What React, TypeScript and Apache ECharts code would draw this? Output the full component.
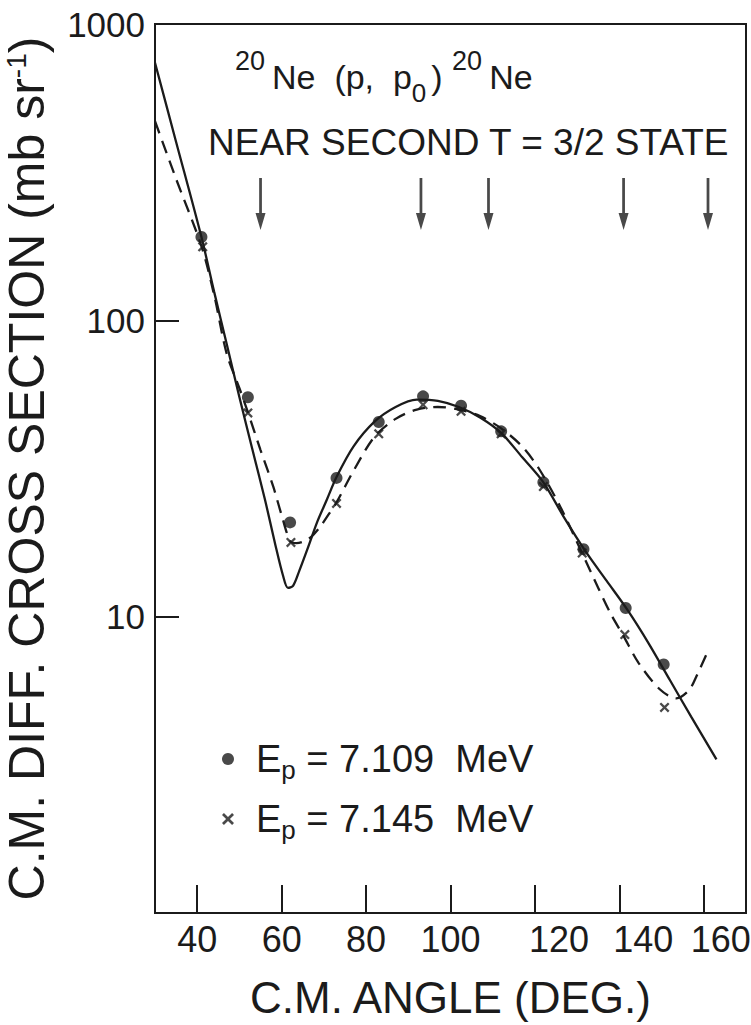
import { useEffect, useRef } from "react";
import * as echarts from "echarts";

const FONT = "'Liberation Sans', Arial, sans-serif";
const INK = "#1b1b1b";

// x axis (C.M. angle, degrees)
const angleTicks = [40, 60, 80, 100, 120, 140, 160];
// y axis (log) labels
const crossSectionLabels = [10, 100, 1000];

// Data: Ep = 7.109 MeV (dots)
const dotAngle = [41, 52, 62, 73, 83, 93.5, 102.5, 112, 122, 131.5, 141.5, 150.5];
const dotValue = [191, 55, 20.8, 29.4, 45.4, 55.4, 51.5, 42.2, 28.4, 16.9, 10.7, 6.9];

// Data: Ep = 7.145 MeV (crosses)
const crossAngle = [41.3, 52, 62.2, 73, 83, 93.5, 102.5, 112, 122, 131.2, 141.3, 150.7];
const crossValue = [177, 48.7, 17.8, 24.1, 41.4, 51.9, 49.3, 41.4, 27.5, 16.4, 8.7, 4.94];

// Solid curve
const solidAngle = [30, 35, 41, 44, 47, 50, 53, 56, 58.5, 60.3, 61.5, 62.7, 64.2, 66.3, 68.5, 70.7, 73, 77, 82, 87, 92, 97, 102, 107, 112, 117, 122, 127, 132, 137, 142, 147, 152, 157, 163];
const solidValue = [740, 400, 191, 125, 83, 55, 37, 25, 17.5, 13.8, 12.5, 12.7, 14.3, 17.2, 21, 24.8, 29.6, 37.5, 45.5, 51, 54, 53.5, 51, 47, 41.7, 34.5, 28.4, 21.5, 16.6, 13.2, 10.5, 8.1, 6.1, 4.6, 3.3];

// Dashed curve
const dashedAngle = [30, 35, 41, 44, 47, 50, 52, 55, 58, 60, 62, 63.5, 65, 67, 69, 71, 73, 77, 82, 87, 92, 97, 102, 107, 112, 117, 121, 126, 131, 135, 138, 141, 144.5, 149.5, 153.5, 156.5, 158.5, 160.7];
const dashedValue = [470, 300, 178, 122, 77, 59, 49, 36.5, 27.5, 22, 18, 17.7, 17.9, 18.6, 20, 22, 24.3, 31, 40.5, 46.5, 50, 51, 50, 47.5, 43.2, 37.5, 31.5, 23.5, 16.6, 12.5, 10.2, 8.6, 7.0, 5.7, 5.3, 5.65, 6.4, 7.5];

// Arrows marking the resonance angles
const arrowAngles = [55, 93, 109, 141, 161];
const arrowLevel = 247;

const XPATH = "path://M0,1.6 L1.6,0 L5,3.4 L8.4,0 L10,1.6 L6.6,5 L10,8.4 L8.4,10 L5,6.6 L1.6,10 L0,8.4 L3.4,5 Z";
const ARROW = "path://M3.9,0 L6.1,0 L6.1,35 L9,35 L5,52 L1,35 L3.9,35 Z";

const pairs = (xs: number[], ys: number[]) => xs.map((x, i) => [x, ys[i]]);

export default function App() {
  const ref = useRef<HTMLDivElement>(null);
  useEffect(() => {
    const chart = echarts.init(ref.current!, null, { renderer: "svg" });
    const tickLabelStyle = { fontSize: 36, fontFamily: FONT, color: INK };
    const option: any = {
      animation: false,
      backgroundColor: "#ffffff",
      grid: {
        left: 155,
        right: 5,
        top: 24,
        bottom: 112,
        containLabel: false,
        outerBoundsMode: "none",
        show: true,
        borderColor: INK,
        borderWidth: 2,
        backgroundColor: "transparent",
      },
      xAxis: {
        type: "value",
        min: 30,
        max: 170,
        axisLine: { show: true, onZero: false, lineStyle: { color: INK, width: 2 } },
        axisTick: { show: true, inside: true, length: 28, customValues: angleTicks, lineStyle: { color: INK, width: 2 } },
        axisLabel: {
          customValues: angleTicks,
          margin: 8,
          ...tickLabelStyle,
          formatter: (v: number) => (v >= 160 ? `{b|${v}}` : v >= 120 ? `{a|${v}}` : `${v}`),
          rich: {
            a: { ...tickLabelStyle, padding: [0, 0, 0, 48] },
            b: { ...tickLabelStyle, padding: [0, 0, 0, 34] },
          },
        },
        splitLine: { show: false },
        name: "C.M. ANGLE (DEG.)",
        nameLocation: "middle",
        nameGap: 62,
        nameTextStyle: { fontSize: 44, fontFamily: FONT, color: INK },
      },
      yAxis: {
        type: "log",
        logBase: 10,
        min: 1,
        max: 1000,
        axisLine: { show: true, lineStyle: { color: INK, width: 2 } },
        axisTick: { show: true, inside: true, length: 24, customValues: [10, 100], lineStyle: { color: INK, width: 2 } },
        axisLabel: {
          customValues: crossSectionLabels,
          margin: 10,
          fontSize: 35,
          fontFamily: FONT,
          color: INK,
          formatter: (v: number) => String(Math.round(v)),
        },
        splitLine: { show: false },
        name: "C.M. DIFF. CROSS SECTION (mb sr{s|-1})",
        nameLocation: "middle",
        nameGap: 94,
        nameTextStyle: {
          fontSize: 50,
          lineHeight: 50,
          fontFamily: FONT,
          color: INK,
          rich: {
            s: { fontSize: 28, lineHeight: 24, fontFamily: FONT, color: INK, padding: [0, 0, 26, 0], verticalAlign: "top" },
          },
        },
      },
      legend: {
        orient: "vertical",
        left: 217,
        top: 735,
        itemWidth: 12,
        itemHeight: 12,
        itemGap: 17,
        selectedMode: false,
        data: [
          { name: "7.109", icon: "circle" },
          { name: "7.145", icon: XPATH },
        ],
        formatter: (name: string) => `{e|E}{p|p}{t| = ${name}  MeV}`,
        textStyle: {
          fontSize: 38,
          fontFamily: FONT,
          color: INK,
          rich: {
            e: { fontSize: 38, fontFamily: FONT, color: INK, padding: [0, 0, 0, 17] },
            p: { fontSize: 26, fontFamily: FONT, color: INK, padding: [22, 0, 0, 0], verticalAlign: "bottom" },
            t: { fontSize: 38, fontFamily: FONT, color: INK },
          },
        },
      },
      graphic: [
        {
          type: "text",
          x: 235,
          y: 76.5,
          silent: true,
          style: {
            text: "{sup|20}{m|Ne  (p,  p}{sub|0}{m|) }{sup|20}{m|Ne}",
            verticalAlign: "middle",
            align: "left",
            fill: INK,
            rich: {
              m: { fontSize: 34, fontFamily: FONT, color: INK },
              sup: { fontSize: 27, fontFamily: FONT, color: INK, padding: [0, 7, 31, 0], verticalAlign: "top" },
              sub: { fontSize: 26, fontFamily: FONT, color: INK, padding: [33, 5, 0, 0], verticalAlign: "bottom" },
            },
          },
        },
        {
          type: "text",
          x: 208,
          y: 142.5,
          silent: true,
          style: {
            text: "NEAR SECOND T = 3/2 STATE",
            fontSize: 37,
            fontFamily: FONT,
            fill: INK,
            verticalAlign: "middle",
            align: "left",
          },
        },
      ],
      series: [
        {
          type: "line",
          name: "solid",
          data: pairs(solidAngle, solidValue),
          symbol: "none",
          smooth: 0.3,
          lineStyle: { color: INK, width: 2.3 },
          silent: true,
        },
        {
          type: "line",
          name: "dashed",
          data: pairs(dashedAngle, dashedValue),
          symbol: "none",
          smooth: 0.3,
          lineStyle: { color: INK, width: 2.3, type: [13, 8] },
          silent: true,
        },
        {
          type: "scatter",
          name: "7.109",
          data: pairs(dotAngle, dotValue),
          symbol: "circle",
          symbolSize: 12,
          itemStyle: { color: INK },
          z: 5,
        },
        {
          type: "scatter",
          name: "7.145",
          data: pairs(crossAngle, crossValue),
          symbol: XPATH,
          symbolSize: 10,
          itemStyle: { color: INK },
          z: 5,
        },
        {
          type: "scatter",
          name: "arrows",
          data: arrowAngles.map((a) => [a, arrowLevel]),
          symbol: ARROW,
          symbolSize: [10, 52],
          itemStyle: { color: INK },
          silent: true,
        },
      ],
    };
    chart.setOption(option);
    return () => chart.dispose();
  }, []);
  return <div ref={ref} style={{ position: "absolute", left: 0, top: 0, width: 751, height: 1025 }} />;
}
